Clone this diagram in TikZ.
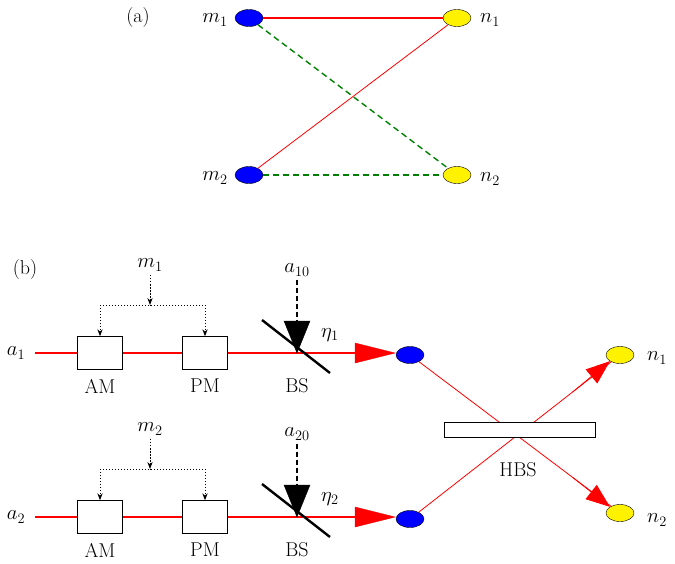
\documentclass[tikz,border=0pt]{standalone}
\usetikzlibrary{arrows.meta,shapes.geometric}
\begin{document}
\begin{tikzpicture}[x=1pt,y=-1pt,
 bl/.style={ellipse,draw,fill=blue,minimum width=28pt,minimum height=17pt,inner sep=0},
 yl/.style={ellipse,draw,fill=yellow,minimum width=28pt,minimum height=17pt,inner sep=0},
 box/.style={draw,fill=white,minimum width=45pt,minimum height=33pt,inner sep=0},
 lab/.style={font=\fontsize{20}{24}\selectfont},
 beam/.style={red,line width=1.6pt},
 thin/.style={red,line width=0.8pt},
 gd/.style={green!50!black,dash pattern=on 6pt off 4pt,line width=1.4pt},
 dot/.style={dotted,line width=1pt,-{Stealth[length=7pt]}}]
\useasboundingbox (0,0) rectangle (675,563);
% (a)
\node[lab] (la) at (138,18) {(a)};
\node[bl] (m1) at (249,18) {};
\node[yl] (n1) at (457,18) {};
\node[bl] (m2) at (249,175) {};
\node[yl] (n2) at (457,175) {};
\node[lab] at (215,20) {$m_1$};
\node[lab] at (490,20) {$n_1$};
\node[lab] at (215,178) {$m_2$};
\node[lab] at (490,179) {$n_2$};
\draw[beam] (m1) -- (n1);
\draw[thin] (m2) -- (n1);
\draw[gd] (m1) -- (n2);
\draw[gd] (m2) -- (n2);
% (b)
\node[lab] (lb) at (25,270) {(b)};
\foreach \y/\i/\a in {353/1/10,517/2/20}{
 \coordinate (s\i) at (35,\y);
 \node[lab] at (16,\y) {$a_\i$};
 \node[bl] (b\i) at (410,\y+2) {};
 \draw[beam] (s\i) -- (355,\y);
 \draw[red,fill=red] (355,\y-10) -- (395,\y) -- (355,\y+10) -- cycle;
 \node[box] (am\i) at (100,\y) {};
 \node[box] (pm\i) at (205,\y) {};
 \node[lab] at (100,\y+33) {AM};
 \node[lab] at (205,\y+33) {PM};
 \node[lab] at (297,\y+33) {BS};
 \draw[line width=2.4pt] (262,\y-33) -- (330,\y+20);
 \node[lab] (ai\i) at (297,\y-83) {$a_{\a}$};
 \draw[dash pattern=on 5pt off 3pt,line width=1.4pt] (ai\i) -- (297,\y-32);
 \draw[fill=black] (284,\y-32) -- (310,\y-32) -- (297,\y) -- cycle;
 \node[lab] at (330,\y-18) {$\eta_\i$};
 \node[lab] (mm\i) at (150,\y-88) {$m_\i$};
 \draw[dotted,line width=1pt] (mm\i) -- (150,\y-48);
 \draw[dotted,line width=1pt] (100,\y-48) -- (205,\y-48);
 \draw[dot] (150,\y-68) -- (150,\y-48);
 \draw[dot] (100,\y-48) -- (am\i.north);
 \draw[dot] (205,\y-48) -- (pm\i.north);
}
\node[yl] (o1) at (620,355) {};
\node[yl] (o2) at (620,513) {};
\node[lab] at (657,358) {$n_1$};
\node[lab] at (657,520) {$n_2$};
\draw[thin] (b1) -- (o2);
\draw[thin] (b2) -- (o1);
\node[draw,fill=white,minimum width=151pt,minimum height=15pt,inner sep=0] (hbs) at (520,430) {};
\node[lab] at (518,470) {HBS};
\path (b2) -- (o1) coordinate[pos=0.8] (t1);
\path (b1) -- (o2) coordinate[pos=0.8] (t2);
\draw[red,line width=0.8pt,-{Triangle[length=24pt,width=18pt]}] (t1) -- (o1.south west);
\draw[red,line width=0.8pt,-{Triangle[length=24pt,width=18pt]}] (t2) -- (o2.north west);
\end{tikzpicture}
\end{document}
